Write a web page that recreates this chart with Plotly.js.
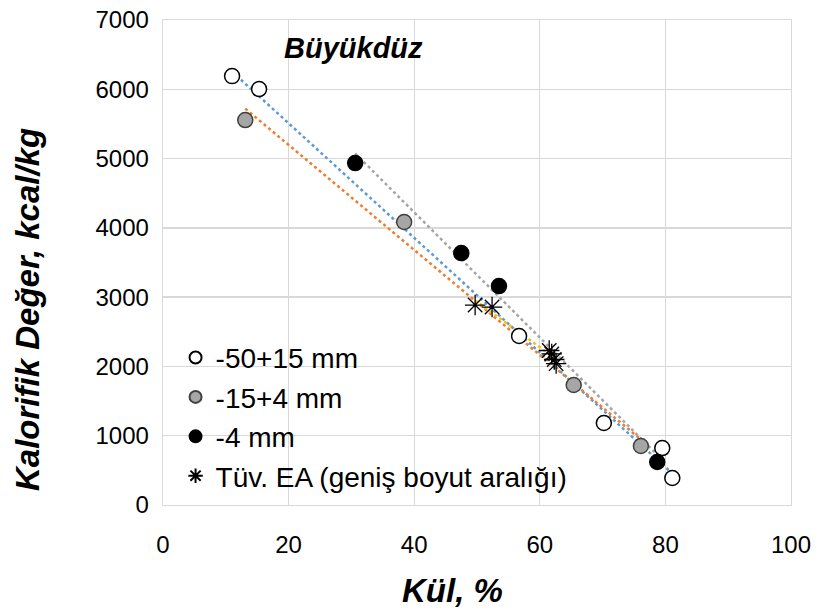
<!DOCTYPE html>
<html>
<head>
<meta charset="utf-8">
<script src="https://cdn.plot.ly/plotly-3.0.1.min.js"></script>
<style>html,body{margin:0;padding:0;background:#fff;} #chart{width:819px;height:612px;}</style>
</head>
<body>
<div id="chart"></div>
<script>
// Series data
const seriesNames = ["-50+15 mm", "-15+4 mm", "-4 mm", "Tüv. EA (geniş boyut aralığı)"];
const ash_50_15 = [11.0, 15.3, 56.7, 70.2, 79.5, 81.1];
const cal_50_15 = [6190, 6003, 2439, 1183, 822, 390];
const ash_15_4 = [13.1, 38.4, 65.4, 76.1];
const cal_15_4 = [5556, 4084, 1732, 851];
const ash_4 = [30.6, 47.5, 53.5, 78.7];
const cal_4 = [4935, 3636, 3160, 620];
const ash_tuv = [49.7, 52.4, 61.5, 61.9, 62.3, 62.6];
const cal_tuv = [2886, 2857, 2230, 2180, 2100, 2040];
const xTicks = [0, 20, 40, 60, 80, 100];
const yTicks = [0, 1000, 2000, 3000, 4000, 5000, 6000, 7000];
const xTitle = "Kül, %";
const yTitle = "Kalorifik Değer, kcal/kg";
const chartLabel = "Büyükdüz";

// Linear trendline (least squares), like the spreadsheet's linear trendline
function trend(xs, ys) {
  const n = xs.length;
  const mx = xs.reduce((a, b) => a + b, 0) / n;
  const my = ys.reduce((a, b) => a + b, 0) / n;
  let sxy = 0, sxx = 0;
  for (let i = 0; i < n; i++) { sxy += (xs[i] - mx) * (ys[i] - my); sxx += (xs[i] - mx) ** 2; }
  const b = sxy / sxx, a = my - b * mx;
  const x0 = Math.min(...xs), x1 = Math.max(...xs);
  return { x: [x0, x1], y: [a + b * x0, a + b * x1] };
}

const FAM = "Liberation Sans, Arial, sans-serif";
const tickFont = { family: FAM, size: 24, color: "#000" };
const titleFont = { family: FAM, size: 33, color: "#000" };

function trendTrace(xs, ys, color) {
  const t = trend(xs, ys);
  return { x: t.x, y: t.y, mode: "lines", type: "scatter", showlegend: false, hoverinfo: "skip",
           line: { color: color, width: 2.5, dash: "dot" } };
}

const traces = [
  trendTrace(ash_50_15, cal_50_15, "#5B9BD5"),
  trendTrace(ash_15_4, cal_15_4, "#ED7D31"),
  trendTrace(ash_4, cal_4, "#A5A5A5"),
  trendTrace(ash_tuv, cal_tuv, "#FFC000"),
  { x: ash_50_15, y: cal_50_15, name: seriesNames[0], mode: "markers", type: "scatter", legendgroup: "a",
    marker: { symbol: "circle", size: 15, color: "#fff", line: { color: "#000", width: 1.5 } } },
  { x: ash_15_4, y: cal_15_4, name: seriesNames[1], mode: "markers", type: "scatter", legendgroup: "b",
    marker: { symbol: "circle", size: 15, color: "#A6A6A6", line: { color: "#404040", width: 1.5 } } },
  { x: ash_4, y: cal_4, name: seriesNames[2], mode: "markers", type: "scatter", legendgroup: "c",
    marker: { symbol: "circle", size: 15, color: "#000", line: { color: "#000", width: 1.5 } } },
  { x: ash_tuv, y: cal_tuv, name: seriesNames[3], mode: "markers", type: "scatter", legendgroup: "d",
    marker: { symbol: "asterisk-open", size: 17, color: "#000", line: { color: "#000", width: 1.3 } } }
];

const layout = {
  width: 819, height: 612,
  margin: { l: 163, r: 28, t: 20, b: 107 },
  paper_bgcolor: "#fff", plot_bgcolor: "#fff",
  showlegend: true,
  legend: { x: 0.02, y: 0.355, xanchor: "left", yanchor: "top", bgcolor: "rgba(0,0,0,0)",
            font: { family: FAM, size: 28, color: "#000" },
            itemsizing: "constant", traceorder: "grouped", tracegroupgap: 0, itemwidth: 30 },
  xaxis: {
    range: [0, 100], tickvals: xTicks, ticktext: xTicks.map(String),
    showgrid: true, gridcolor: "#D9D9D9", gridwidth: 1.3, zeroline: false,
    showline: true, mirror: true, linecolor: "#D9D9D9", linewidth: 1.3,
    ticks: "", tickfont: tickFont, ticklabelstandoff: 18
  },
  yaxis: {
    range: [0, 7000], tickvals: yTicks, ticktext: yTicks.map(String),
    showgrid: true, gridcolor: "#D9D9D9", gridwidth: 1.3, zeroline: false,
    showline: true, mirror: true, linecolor: "#D9D9D9", linewidth: 1.3,
    ticks: "", tickfont: tickFont, ticklabelstandoff: 8
  },
  annotations: [
    { x: 30.4, y: 6595, xref: "x", yref: "y", showarrow: false,
      text: "<b><i>" + chartLabel + "</i></b>", font: { family: FAM, size: 29, color: "#000" } },
    { x: 452, y: 612 - 590, xref: "paper", yref: "paper", showarrow: false,
      xanchor: "center", yanchor: "middle",
      text: "<b><i>" + xTitle + "</i></b>", font: titleFont },
    { x: 27, y: 612 - 310, xref: "paper", yref: "paper", showarrow: false, textangle: -90,
      xanchor: "center", yanchor: "middle",
      text: "<b><i>" + yTitle + "</i></b>", font: titleFont }
  ]
};
// convert title annotation pixel positions to paper coordinates
(function () {
  const pw = 819 - 163 - 28, ph = 612 - 20 - 107;
  for (const a of layout.annotations.slice(1)) {
    a.x = (a.x - 163) / pw;
    a.y = (a.y - 107) / ph;
  }
})();

Plotly.newPlot("chart", traces, layout, { staticPlot: true, displayModeBar: false });
</script>
</body>
</html>
